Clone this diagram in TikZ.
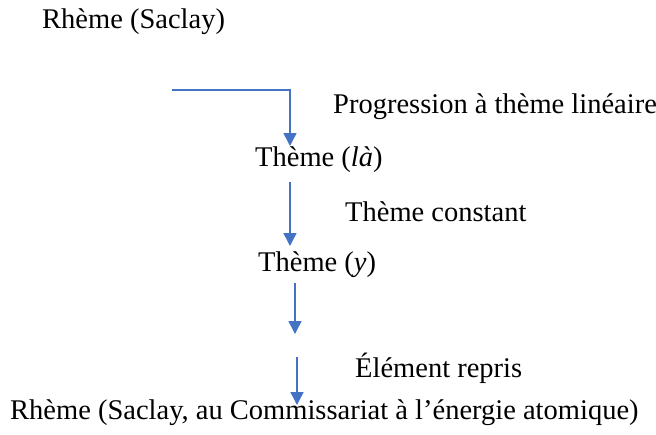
\documentclass[tikz,border=0pt]{standalone}
\usepackage{fontspec}
\setmainfont{Liberation Serif}
\usetikzlibrary{arrows.meta}
\definecolor{arrblue}{HTML}{4472C4}
\tikzset{
  lbl/.style={inner sep=0pt, font=\fontsize{28.5}{33}\selectfont},
  conn/.style={draw=arrblue, line width=1.5pt, -{Triangle[length=13pt,width=13pt]}},
}
\begin{document}
\begin{tikzpicture}[x=1pt,y=-1pt]
\useasboundingbox (0,0) rectangle (656,434);
\node[lbl, anchor=west] (r1) at (42,22) {Rhème (Saclay)};
\node[lbl, anchor=west] (p1) at (333,107) {Progression à thème linéaire};
\node[lbl, anchor=west] (t1) at (255,160) {Thème (\textit{là})};
\node[lbl, anchor=west] (p2) at (345,212) {Thème constant};
\node[lbl, anchor=west] (t2) at (258,265) {Thème (\textit{y})};
\node[lbl, anchor=west] (p3) at (355,368) {Élément repris};
\node[lbl, anchor=west] (r2) at (10,413) {Rhème (Saclay, au Commissariat à l’énergie atomique)};
\coordinate (a0) at (172,90);
\coordinate (a1) at (290,90);
\coordinate (a2) at (290,146);
\coordinate (b1) at (290,182);
\coordinate (b2) at (290,246);
\coordinate (c1) at (295,283);
\coordinate (c2) at (295,334);
\coordinate (d1) at (297,357);
\coordinate (d2) at (297,405);
\draw[conn] (a0) -- (a1) -- (a2);
\draw[conn] (b1) -- (b2);
\draw[conn] (c1) -- (c2);
\draw[conn] (d1) -- (d2);
\end{tikzpicture}
\end{document}
